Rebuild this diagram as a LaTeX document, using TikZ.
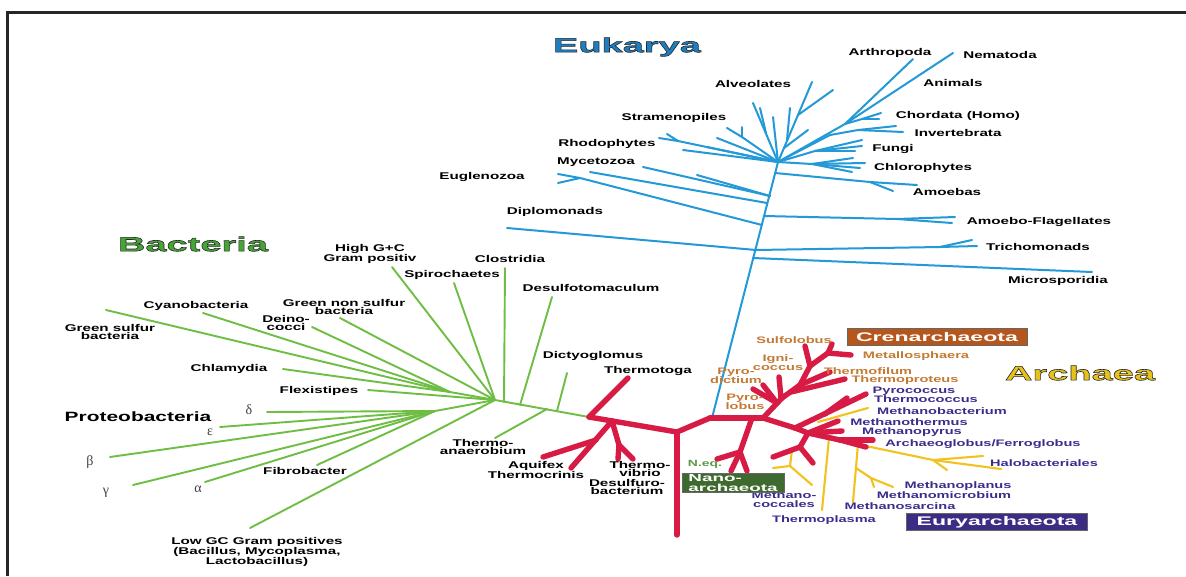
\documentclass[tikz,border=0pt]{standalone}
\usepackage{fontspec}
\setmainfont{Liberation Sans}
\newfontfamily\labf{Liberation Sans}[FakeStretch=1.55]
\newfontfamily\titf{Liberation Sans}[FakeStretch=1.9]
\newfontfamily\boxf{Liberation Sans}[FakeStretch=1.85]
\newfontfamily\grkf{Liberation Serif}
\definecolor{eukc}{HTML}{2399D8}
\definecolor{bacc}{HTML}{6FBE44}
\definecolor{redc}{HTML}{D81B45}
\definecolor{yelc}{HTML}{F2C21E}
\definecolor{crenc}{HTML}{C47A32}
\definecolor{euryc}{HTML}{3A2E8C}
\definecolor{crenbox}{HTML}{B5561C}
\definecolor{eurybox}{HTML}{3C2C84}
\definecolor{nanobox}{HTML}{3E6A2F}
\definecolor{neqc}{HTML}{5C9A48}
\definecolor{eukt}{HTML}{1E7EC0}
\definecolor{bact}{HTML}{45A636}
\definecolor{arct}{HTML}{E6C21A}
\newcommand{\outl}[1]{\special{pdf:literal direct 0.15 0.15 0.15 RG 0.6 w 2 Tr}#1\special{pdf:literal direct 0 Tr}}
\tikzset{
  eu/.style={draw=eukc, line width=2pt, line cap=round},
  ba/.style={draw=bacc, line width=1.9pt, line cap=round},
  rd/.style={draw=redc, line width=5.4pt, line cap=round, line join=round},
  ye/.style={draw=yelc, line width=2.1pt, line cap=round},
  lab/.style={font=\labf\bfseries\fontsize{9.8}{8.6}\selectfont, text=black, inner sep=0pt, align=center},
  alab/.style={lab, font=\labf\bfseries\fontsize{9.4}{8.8}\selectfont},
  cren/.style={alab, text=crenc},
  eury/.style={alab, text=euryc},
  grk/.style={inner sep=0pt, font=\grkf\fontsize{14}{14}\selectfont, text=black!75},
  ttl/.style={inner sep=0pt, font=\titf\bfseries\fontsize{20}{20}\selectfont},
  boxl/.style={inner sep=0pt, font=\boxf\bfseries\fontsize{12.5}{12}\selectfont, text=white, draw=black!60, line width=0.8pt},
}
\begin{document}
\begin{tikzpicture}[x=1pt,y=-1pt]
\useasboundingbox (0,0) rectangle (1186,576);
\fill[white] (0,0) rectangle (1186,576);
% ---------- coordinates ----------
\foreach \n/\x/\y in {
 b0/712/418, bJ/778/162, bM/753/258, bMs/1092/272, bD/756/250, bDt/507/228, bTr/940/247, bTr1/972/240, bTr2/977/246,
 bAF/764/216, bAFf/897/219, bAF1/955/217, bAF2/952/223,
 bEu/762/225, bEuf/580/178, bEu1/558/174, bEu2/558/183,
 bX/767/203, bXt/590/172, bMy/770/196, bMy1/643/167, bMy2/697/175,
 bAm/775/173, bAmf/870/182, bAm1/917/185, bAm2/893/191,
 bCh/812/164, bCh1/853/158, bCh2/865/163, bCh3/860/168, bCh4/852/172,
 bFu/815/151, bFu1/862/140, bFu2/862/146, bFu3/855/151,
 bAn/845/124, bAr/913/59, bNe/953/53,
 bCo/862/119, bCo1/881/113, bCo2/879/119,
 bIn/830/135, bInf/858/130, bIn1/896/126, bIn2/903/132,
 bAl1/812/82, bAlf/798/115, bAl2/833/90, bAlg/787/140, bAl3/790/108, bAlh/784/148, bAl4/808/130,
 bSt1/753/103, bStf/766/133, bSt2/760/108, bSt3/773/117,
 bV/742/137, bV1/727/128, bV2/742/127, bL1/717/138,
 bRh/678/141, bRh1/667/134, bRh2/659/138, bL2/683/150, bL3/707/147}
 \coordinate (\n) at (\x,\y);
\foreach \n/\x/\y in {
 gR/589/417, gDi/557/411, gDit/567/373, gTa/547/409, gTat/495/438, gDe/520/405, gDet/552/297,
 gCl/504/402, gClt/505/268, gH/495/400, gSp/454/283, gHG/392/267, gGn/340/318, gS1/450/392,
 gDc/312/327, gCy/203/313, gGs/106/310, gChl/283/369, gFl/368/390, gS2/435/411,
 gd/267/412, ge/220/427, gb/110/457, gg/133/485, ga/205/482, gFi/317/465, gLo/250/528}
 \coordinate (\n) at (\x,\y);
\foreach \n/\x/\y in {
 rV/677/432, rVb/677/535, rL/589/417, rTh/628/378, rA/612/421, rAq/596/440, rAq1/543/457, rAq2/571/468,
 rTv/619/445, rTv1/618/459, rTv2/633/459, rR/710/418, rC/763/418, rN/752/418, rNf/740/452,
 rN1/717/459, rN2/731/471, rN3/747/471,
 c1/782/398, c2/800/385, c3/810/366, c4/805/346, cMf/828/353, cM1/851/355, cM2/832/344,
 cTf/830/372, cTpS/791/392, cTp/845/379, cI0/781/398, cI/779/377, cP0/777/403, cP1/753/389, cP2/763/385,
 e1/795/428, ePm/825/414, eP1/847/398, eP2/866/394, e2/808/433, eMt/838/421, eMp/842/431,
 eAr/840/440, eA1/873/440, eA2/866/447, eD/800/447, eD1/773/457, eD2/813/463}
 \coordinate (\n) at (\x,\y);
\foreach \n/\x/\y in {
 yMb0/818/422, yMb/868/408, yMc0/792/450, yMcf/790/466, yMc1/773/468, yMc2/812/485,
 yTp0/829/438, yTp/822/510, yHa0/842/441, yHaf/933/460, yHa1/983/456, yHa2/1001/469, yHa3/947/470,
 yMs0/858/444, yMs/853/502, yMsf/856/468, yMsg/871/478, yMs1/893/487, yMs2/874/487}
 \coordinate (\n) at (\x,\y);
% ---------- Eukarya (blue) ----------
\foreach \a/\b in {b0/bJ, bM/bMs, bD/bDt, bD/bTr, bTr/bTr1, bTr/bTr2, bAF/bAFf, bAFf/bAF1, bAFf/bAF2,
 bEu/bEuf, bEuf/bEu1, bEuf/bEu2, bX/bXt, bMy/bMy1, bMy/bMy2, bAm/bAmf, bAmf/bAm1, bAmf/bAm2,
 bJ/bCh, bCh/bCh1, bCh/bCh2, bCh/bCh3, bCh/bCh4, bJ/bFu, bFu/bFu1, bFu/bFu2, bFu/bFu3,
 bJ/bAn, bAn/bAr, bAn/bNe, bAn/bCo, bCo/bCo1, bCo/bCo2, bJ/bIn, bIn/bInf, bInf/bIn1, bInf/bIn2,
 bJ/bAl1, bAlf/bAl2, bAlg/bAl3, bAlh/bAl4, bJ/bSt1, bStf/bSt2, bJ/bSt3,
 bJ/bV, bV/bV1, bV/bV2, bJ/bL1, bJ/bRh, bRh/bRh1, bRh/bRh2, bJ/bL2, bJ/bL3}
 \draw[eu] (\a) -- (\b);
% ---------- Bacteria (green) ----------
\foreach \a/\b in {gR/gH, gDi/gDit, gTa/gTat, gDe/gDet, gCl/gClt, gH/gSp, gH/gHG, gH/gGn, gH/gS1,
 gS1/gDc, gS1/gCy, gS1/gGs, gS1/gChl, gH/gFl, gH/gS2, gS2/gd, gS2/ge, gS2/gb, gS2/gg, gS2/ga, gS2/gFi, gH/gLo}
 \draw[ba] (\a) -- (\b);
% ---------- Euryarchaeota (yellow) ----------
\foreach \a/\b in {yMb0/yMb, yMc0/yMcf, yMcf/yMc1, yMcf/yMc2, yTp0/yTp, yHa0/yHaf, yHaf/yHa1, yHaf/yHa2,
 yHaf/yHa3, yMs0/yMs, yMsf/yMsg, yMsg/yMs1, yMsg/yMs2}
 \draw[ye] (\a) -- (\b);
% ---------- red ----------
\foreach \a/\b in {rV/rVb, rV/rL, rL/rTh, rA/rAq2, rAq/rAq1, rA/rTv, rTv/rTv1, rTv/rTv2,
 rV/rR, rR/rC, rN/rNf, rNf/rN1, rNf/rN2, rNf/rN3,
 rC/c1, c1/c2, c2/c3, c3/c4, c3/cMf, cMf/cM1, cMf/cM2, c2/cTf, cTpS/cTp, cI0/cI, cP0/cP1, cP0/cP2,
 rC/e1, e1/eP2, ePm/eP1, e1/e2, e2/eMt, e2/eMp, e2/eAr, eAr/eA1, eAr/eA2, e2/eD, eD/eD1, eD/eD2}
 \draw[rd] (\a) -- (\b);
% ---------- titles ----------
\node[ttl, text=eukt] (tEuk) at (627,47) {\outl{Eukarya}};
\node[ttl, text=bact] (tBac) at (193,244) {\outl{Bacteria}};
\node[ttl, text=arct] (tArc) at (1080,373) {\outl{Archaea}};
% ---------- Eukarya labels ----------
\node[lab] (lArth) at (890,53) {Arthropoda};
\node[lab] (lNema) at (1000,55) {Nematoda};
\node[lab] (lAlve) at (753,84) {Alveolates};
\node[lab] (lAnim) at (953,83) {Animals};
\node[lab] (lStra) at (674,118) {Stramenopiles};
\node[lab] (lChor) at (958,116) {Chordata (Homo)};
\node[lab] (lInve) at (958,133) {Invertebrata};
\node[lab] (lRhod) at (607,144) {Rhodophytes};
\node[lab] (lFung) at (893,149) {Fungi};
\node[lab] (lMyce) at (596,162) {Mycetozoa};
\node[lab] (lChlo) at (923,168) {Chlorophytes};
\node[lab] (lEugl) at (482,177) {Euglenozoa};
\node[lab] (lAmoe) at (947,192) {Amoebas};
\node[lab] (lDipl) at (555,212) {Diplomonads};
\node[lab] (lAmFl) at (1039,222) {Amoebo-Flagellates};
\node[lab] (lTric) at (1038,247) {Trichomonads};
\node[lab] (lMicr) at (1058,281) {Microsporidia};
% ---------- Bacteria labels ----------
\node[lab] (lHGC) at (370,254) {High G+C\\Gram positiv};
\node[lab] (lClos) at (510,259) {Clostridia};
\node[lab] (lSpir) at (452,275) {Spirochaetes};
\node[lab] (lDesm) at (591,288) {Desulfotomaculum};
\node[lab] (lGnsb) at (344,307) {Green non sulfur\\bacteria};
\node[lab] (lDein) at (286,323) {Deino-\\cocci};
\node[lab] (lCyan) at (196,306) {Cyanobacteria};
\node[lab] (lGsb) at (110,332) {Green sulfur\\bacteria};
\node[lab] (lChla) at (229,369) {Chlamydia};
\node[lab] (lFlex) at (319,391) {Flexistipes};
\node[lab, font=\labf\bfseries\fontsize{13.5}{13}\selectfont] (lProt) at (138,417) {Proteobacteria};
\node[grk] (lDel) at (249,410) {δ};
\node[grk] (lEps) at (210,432) {ε};
\node[grk] (lBet) at (90,462) {β};
\node[grk] (lGam) at (106,493) {γ};
\node[grk] (lAlp) at (198,489) {α};
\node[lab] (lFibr) at (305,471) {Fibrobacter};
\node[lab] (lLowGC) at (257,552) {Low GC Gram positives\\(Bacillus, Mycoplasma,\\Lactobacillus)};
\node[lab] (lDict) at (593,356) {Dictyoglomus};
\node[lab] (lTtog) at (648,371) {Thermotoga};
\node[lab] (lTana) at (483,447) {Thermo-\\anaerobium};
\node[lab] (lAqui) at (536,470) {Aquifex\\Thermocrinis};
\node[lab] (lTvib) at (640,469) {Thermo-\\vibrio};
\node[lab] (lDesb) at (627,487) {Desulfuro-\\bacterium};
% ---------- Archaea labels ----------
\node[cren] (lSulf) at (794,340) {Sulfolobus};
\node[cren] (lIgni) at (778,363) {Igni-\\coccus};
\node[cren] (lPdic) at (736,376) {Pyro-\\dictium};
\node[cren] (lPlob) at (745,402) {Pyro-\\lobus};
\node[cren] (lMeta) at (916,356) {Metallosphaera};
\node[cren] (lTfil) at (868,371) {Thermofilum};
\node[cren] (lTpro) at (905,380) {Thermoproteus};
\node[eury] (lPyco) at (914,391) {Pyrococcus};
\node[eury] (lThco) at (926,399) {Thermococcus};
\node[eury] (lMbac) at (942,411) {Methanobacterium};
\node[eury] (lMthe) at (909,422) {Methanothermus};
\node[eury] (lMpyr) at (912,432) {Methanopyrus};
\node[eury] (lArch) at (983,444) {Archaeoglobus/Ferroglobus};
\node[eury] (lHalo) at (1044,463) {Halobacteriales};
\node[eury] (lMpla) at (958,486) {Methanoplanus};
\node[eury] (lMmic) at (944,495) {Methanomicrobium};
\node[eury] (lMsar) at (900,506) {Methanosarcina};
\node[eury] (lMcoc) at (784,500) {Methano-\\coccales};
\node[eury] (lTpla) at (824,520) {Thermoplasma};
\node[alab, text=neqc, font=\labf\bfseries\fontsize{9}{9}\selectfont] (lNeq) at (705,464) {N.eq.};
% ---------- boxes ----------
\node[boxl, fill=crenbox, minimum width=180pt, minimum height=17pt] (xCren) at (937,337) {Crenarchaeota};
\node[boxl, fill=eurybox, minimum width=181pt, minimum height=17pt] (xEury) at (997,522) {Euryarchaeota};
\node[boxl, fill=nanobox, minimum width=102pt, minimum height=19pt, align=left, font=\boxf\bfseries\fontsize{10.2}{9.4}\selectfont] (xNano) at (733,483) {Nano-\\archaeota};
% ---------- frame ----------
\draw[line width=2.2pt, black!85] (7.5,576) -- (7.5,12.5) -- (1186,12.5);
\end{tikzpicture}
\end{document}
